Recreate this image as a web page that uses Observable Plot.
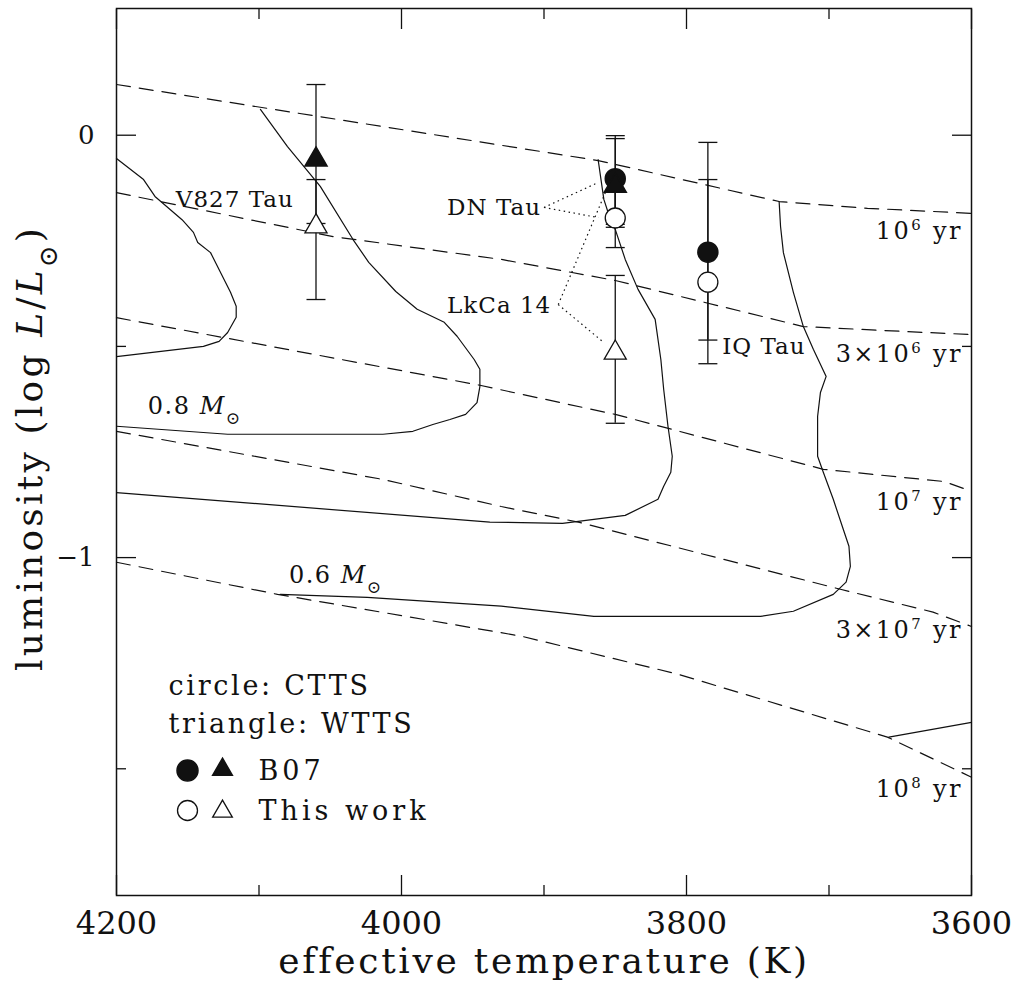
<!DOCTYPE html>
<html><head><meta charset="utf-8">
<script src="https://cdn.jsdelivr.net/npm/d3@7"></script>
<script src="https://cdn.jsdelivr.net/npm/@observablehq/plot@0.6"></script>
<style>
html,body{margin:0;padding:0;background:#fff;}
#chart svg{display:block;}
</style></head><body><div id="chart"></div>
<script>
// ---- isochrones (Teff [K], log L/Lsun) ----
const iso1e6 = [[4200,0.120],[3862,-0.060],[3735,-0.157],[3673,-0.173],[3600,-0.185]];
const iso3e6 = [[4200,-0.136],[4048,-0.240],[3930,-0.294],[3850,-0.344],[3718,-0.453],[3664,-0.462],[3600,-0.472]];
const iso1e7 = [[4200,-0.432],[4125,-0.479],[3945,-0.592],[3850,-0.661],[3704,-0.791],[3619,-0.820],[3600,-0.843]];
const iso3e7 = [[4200,-0.701],[4013,-0.815],[3930,-0.879],[3876,-0.916],[3692,-1.075],[3627,-1.129],[3600,-1.163]];
const iso1e8 = [[4200,-1.011],[4087,-1.087],[3916,-1.186],[3806,-1.276],[3659,-1.425],[3600,-1.520]];
const isoLabels = ["10^{6} yr","3×10^{6} yr","10^{7} yr","3×10^{7} yr","10^{8} yr"];
const isoLabelTeff = [3606,3606,3606,3606,3606];
const isoLabelLum = [-0.228,-0.519,-0.869,-1.172,-1.548];

// ---- mass tracks ----
const trackA = [[4200,-0.055],[4181,-0.105],[4173,-0.145],[4154,-0.200],[4146,-0.230],[4143,-0.254],[4134,-0.278],[4120,-0.372],[4116,-0.405],[4116,-0.431],[4122,-0.467],[4128,-0.488],[4139,-0.500],[4200,-0.524]];
const trackB = [[4099,0.061],[4080,-0.027],[4057,-0.121],[4034,-0.247],[4023,-0.301],[4004,-0.370],[3989,-0.412],[3970,-0.443],[3961,-0.476],[3949,-0.531],[3945,-0.554],[3945,-0.595],[3947,-0.633],[3955,-0.661],[3966,-0.673],[3978,-0.685],[3992,-0.701],[4013,-0.708],[4122,-0.708],[4200,-0.689]];
const trackC = [[3862,-0.058],[3860,-0.105],[3858,-0.152],[3855,-0.183],[3850,-0.223],[3843,-0.294],[3834,-0.365],[3822,-0.436],[3818,-0.531],[3816,-0.602],[3813,-0.689],[3810,-0.760],[3811,-0.798],[3816,-0.831],[3820,-0.862],[3843,-0.900],[3887,-0.919],[3938,-0.916],[4200,-0.846]];
const trackD = [[3735,-0.157],[3734,-0.216],[3732,-0.278],[3725,-0.372],[3718,-0.453],[3711,-0.507],[3702,-0.571],[3706,-0.609],[3708,-0.666],[3708,-0.760],[3704,-0.798],[3697,-0.862],[3690,-0.933],[3686,-0.973],[3685,-1.021],[3688,-1.058],[3697,-1.087],[3725,-1.127],[3748,-1.139],[3865,-1.139],[3930,-1.115],[4024,-1.094],[4085,-1.087]];
const trackE = [[3658,-1.425],[3600,-1.390]];
const massLabels = ["0.8 *M*_{⊙}","0.6 *M*_{⊙}"];
const massLabelTeff = [4178,4079];
const massLabelLum = [-0.642,-1.042];

// ---- stars ----
const starNames = ["V827 Tau","DN Tau","LkCa 14","IQ Tau"];
const starClass = ["WTTS","CTTS","WTTS","CTTS"];
const starTeff  = [4060,3850,3850,3785];
const lumB07    = [-0.058,-0.103,-0.120,-0.277];
const lumB07Lo  = [-0.209,-0.211,-0.218,-0.541];
const lumB07Hi  = [0.120,-0.001,-0.008,-0.017];
const lumThis   = [-0.216,-0.196,-0.515,-0.348];
const lumThisLo = [-0.389,-0.266,-0.682,-0.485];
const lumThisHi = [-0.105,-0.128,-0.332,-0.105];
const starLabelTeff = [4117,3968,3968,3775];
const starLabelLum  = [-0.152,-0.171,-0.403,-0.500];
const starLabelAnchor = ["middle","start","start","start"];
// leader lines (label -> points)
const leadFromTeff = [3900,3900,3890,3890];
const leadFromLum  = [-0.171,-0.171,-0.401,-0.401];
const leadToTeff   = [3862,3862,3857,3858];
const leadToLum    = [-0.112,-0.195,-0.136,-0.491];

// ---- axes ----
const xMajor = [4200,4000,3800,3600];
const xMinor = [4100,3900,3700];
const yMajor = [0,-1];
const yMinor = [-0.5,-1.5];
const xTitle = "effective temperature (K)";
const yTitle = "luminosity (log *L*/*L*_{⊙})";
const legendLines = ["circle: CTTS","triangle: WTTS"];
const legendSeries = ["B07","This work"];

// ---- tables ----
const toTable = (curves) => curves.flatMap((pts,k) => pts.map(([t,l]) => ({t,l,k})));
const isoTable = toTable([iso1e6,iso3e6,iso1e7,iso3e7,iso1e8]);
const trackTable = toTable([trackA,trackB,trackC,trackD,trackE]);
const stars = starNames.map((name,i) => ({
  name, cls: starClass[i], teff: starTeff[i],
  b07: lumB07[i], b07Lo: lumB07Lo[i], b07Hi: lumB07Hi[i],
  tw: lumThis[i], twLo: lumThisLo[i], twHi: lumThisHi[i],
  lt: starLabelTeff[i], ll: starLabelLum[i], la: starLabelAnchor[i]
}));
const leads = leadFromTeff.map((_,i) => ({x1: leadFromTeff[i], y1: leadFromLum[i], x2: leadToTeff[i], y2: leadToLum[i]}));
const isoLab = isoLabels.map((s,i) => ({s, t: isoLabelTeff[i], l: isoLabelLum[i]}));
const massLab = massLabels.map((s,i) => ({s, t: massLabelTeff[i], l: massLabelLum[i]}));

const capSymbol = {draw(ctx, size){ const r = Math.sqrt(size/Math.PI); ctx.moveTo(-r,0); ctx.lineTo(r,0); }};
const ink = "#111";
const lw = 1.3;
const fmtY = d => d < 0 ? "\u2212" + Math.abs(d) : String(d);

const plot = Plot.plot({
  width: 1019, height: 998,
  marginLeft: 116, marginRight: 48, marginTop: 8, marginBottom: 103,
  x: {domain: [4200,3600], axis: null},
  y: {domain: [-1.8,0.3], axis: null},
  style: {fontFamily: "'DejaVu Serif', serif", background: "white", color: ink},
  marks: [
    Plot.frame({stroke: ink, strokeWidth: 1.5}),
    // ticks
    Plot.axisX(xMajor, {anchor: "bottom", tickSize: -20, fill: "none", label: null, strokeWidth: lw}),
    Plot.axisX(xMinor, {anchor: "bottom", tickSize: -10, fill: "none", label: null, strokeWidth: lw}),
    Plot.axisX(xMajor, {anchor: "top", tickSize: -20, fill: "none", label: null, strokeWidth: lw}),
    Plot.axisX(xMinor, {anchor: "top", tickSize: -10, fill: "none", label: null, strokeWidth: lw}),
    Plot.axisY(yMajor, {anchor: "left", tickSize: -20, fill: "none", label: null, strokeWidth: lw}),
    Plot.axisY(yMinor, {anchor: "left", tickSize: -10, fill: "none", label: null, strokeWidth: lw}),
    Plot.axisY(yMajor, {anchor: "right", tickSize: -20, fill: "none", label: null, strokeWidth: lw}),
    Plot.axisY(yMinor, {anchor: "right", tickSize: -10, fill: "none", label: null, strokeWidth: lw}),
    Plot.axisX(xMajor, {anchor: "bottom", tickSize: 0, tickPadding: 16, fontSize: 32, tickFormat: d => String(d), label: null}),
    Plot.axisY(yMajor, {anchor: "left", tickSize: 0, tickPadding: 22, fontSize: 26, tickFormat: fmtY, label: null}),
    // isochrones and tracks
    Plot.line(isoTable, {x: "t", y: "l", z: "k", stroke: ink, strokeWidth: 1.2, strokeDasharray: "14,9"}),
    Plot.line(trackTable, {x: "t", y: "l", z: "k", stroke: ink, strokeWidth: 1.2}),
    // leader lines
    Plot.link(leads, {x1: "x1", y1: "y1", x2: "x2", y2: "y2", stroke: ink, strokeWidth: 1.2, strokeDasharray: "1.5,3.5"}),
    // error bars
    Plot.ruleX(stars, {x: "teff", y1: "b07Lo", y2: "b07Hi", stroke: ink, strokeWidth: lw}),
    Plot.ruleX(stars, {x: "teff", y1: "twLo", y2: "twHi", stroke: ink, strokeWidth: lw}),
    Plot.dot(stars, {x: "teff", y: "b07Lo", symbol: capSymbol, r: 9.5, fill: "none", stroke: ink, strokeWidth: lw}),
    Plot.dot(stars, {x: "teff", y: "b07Hi", symbol: capSymbol, r: 9.5, fill: "none", stroke: ink, strokeWidth: lw}),
    Plot.dot(stars, {x: "teff", y: "twLo", symbol: capSymbol, r: 9.5, fill: "none", stroke: ink, strokeWidth: lw}),
    Plot.dot(stars, {x: "teff", y: "twHi", symbol: capSymbol, r: 9.5, fill: "none", stroke: ink, strokeWidth: lw}),
    // B07 (filled)
    Plot.dot(stars.filter(d => d.cls === "CTTS"), {x: "teff", y: "b07", symbol: "circle", r: 10, fill: ink, stroke: ink}),
    Plot.dot(stars.filter(d => d.cls === "WTTS"), {x: "teff", y: "b07", symbol: "triangle", r: 8.2, fill: ink, stroke: ink}),
    // this work (open)
    Plot.dot(stars.filter(d => d.cls === "CTTS"), {x: "teff", y: "tw", symbol: "circle", r: 10, fill: "white", stroke: ink, strokeWidth: lw}),
    Plot.dot(stars.filter(d => d.cls === "WTTS"), {x: "teff", y: "tw", symbol: "triangle", r: 8.2, fill: "white", stroke: ink, strokeWidth: lw}),
    // labels
    Plot.text(stars.filter(d => d.la === "middle"), {x: "lt", y: "ll", text: "name", textAnchor: "middle", lineAnchor: "middle", fontSize: 23, fill: ink}),
    Plot.text(stars.filter(d => d.la === "start"), {x: "lt", y: "ll", text: "name", textAnchor: "start", lineAnchor: "middle", fontSize: 23, fill: ink}),
    Plot.text(isoLab, {x: "t", y: "l", text: "s", textAnchor: "end", lineAnchor: "middle", fontSize: 24, fill: ink}),
    Plot.text(massLab, {x: "t", y: "l", text: "s", textAnchor: "start", lineAnchor: "middle", fontSize: 24, fill: ink}),
    // legend
    Plot.text([legendLines[0]], {frameAnchor: "top-left", dx: 52, dy: 678, textAnchor: "start", lineAnchor: "middle", fontSize: 27, fill: ink}),
    Plot.text([legendLines[1]], {frameAnchor: "top-left", dx: 52, dy: 716, textAnchor: "start", lineAnchor: "middle", fontSize: 27, fill: ink}),
    Plot.text([legendSeries[0]], {frameAnchor: "top-left", dx: 142, dy: 763, textAnchor: "start", lineAnchor: "middle", fontSize: 27, fill: ink}),
    Plot.text([legendSeries[1]], {frameAnchor: "top-left", dx: 142, dy: 803, textAnchor: "start", lineAnchor: "middle", fontSize: 27, fill: ink}),
    Plot.dot([0], {frameAnchor: "top-left", dx: 71, dy: 762, symbol: "circle", r: 10.5, fill: ink, stroke: ink}),
    Plot.dot([0], {frameAnchor: "top-left", dx: 106, dy: 761, symbol: "triangle", r: 7.3, fill: ink, stroke: ink}),
    Plot.dot([0], {frameAnchor: "top-left", dx: 71, dy: 802, symbol: "circle", r: 10, fill: "white", stroke: ink, strokeWidth: lw}),
    Plot.dot([0], {frameAnchor: "top-left", dx: 106, dy: 803, symbol: "triangle", r: 7.3, fill: "white", stroke: ink, strokeWidth: lw}),
    // axis titles
    Plot.text([xTitle], {frameAnchor: "bottom", dy: 66, textAnchor: "middle", lineAnchor: "middle", fontSize: 36, fill: ink}),
    Plot.text([yTitle], {frameAnchor: "left", dx: -86, dy: -4, rotate: -90, textAnchor: "middle", lineAnchor: "middle", fontSize: 36, fill: ink})
  ]
});

// letter spacing to mimic the wide plotting font
const spacing = new Map([
  [xTitle, 2.7], [yTitle, 3.2],
  ...legendLines.map(s => [s, 2.7]),
  ...legendSeries.map(s => [s, 4]),
  ...starNames.map(s => [s, 1]),
  ...isoLabels.map(s => [s, 2.4]),
  ...massLabels.map(s => [s, 1.5])
]);

// rich text: *italic*, _{sub}, ^{sup}
function rich(el) {
  const s = el.textContent;
  if (spacing.has(s)) el.style.letterSpacing = spacing.get(s) + "px";
  if (!/[*_^]/.test(s)) return;
  while (el.firstChild) el.removeChild(el.firstChild);
  const re = /\*([^*]+)\*|_\{([^}]*)\}|\^\{([^}]*)\}|([^*_^]+)/g;
  let m;
  while ((m = re.exec(s)) !== null) {
    const t = document.createElementNS("http://www.w3.org/2000/svg", "tspan");
    if (m[1] !== undefined) { t.setAttribute("font-style", "italic"); t.textContent = m[1]; }
    else if (m[2] !== undefined) { t.setAttribute("baseline-shift", "sub"); t.setAttribute("font-size", "72%"); t.textContent = m[2]; }
    else if (m[3] !== undefined) { t.setAttribute("baseline-shift", "super"); t.setAttribute("font-size", "62%"); t.textContent = m[3]; }
    else t.textContent = m[4];
    el.appendChild(t);
  }
}
d3.select(plot).selectAll("text").each(function(){ rich(this); });
document.getElementById("chart").appendChild(plot);
</script></body></html>
